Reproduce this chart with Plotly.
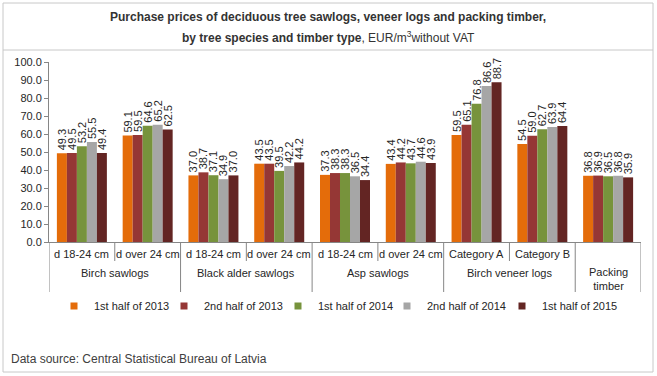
import plotly.graph_objects as go

# ---- data ----
sub_labels = ["d 18-24 cm", "d over 24 cm", "d 18-24 cm", "d over 24 cm",
              "d 18-24 cm", "d over 24 cm", "Category A", "Category B", ""]
group_labels = ["Birch sawlogs", "Black alder sawlogs", "Asp sawlogs",
                "Birch veneer logs", "Packing<br>timber"]
group_spans = [(0, 1), (2, 3), (4, 5), (6, 7), (8, 8)]
series_names = ["1st half of 2013", "2nd half of 2013", "1st half of 2014",
                "2nd half of 2014", "1st half of 2015"]
h1_2013 = [49.3, 59.1, 37.0, 43.5, 37.3, 43.4, 59.5, 54.5, 36.8]
h2_2013 = [49.5, 59.5, 38.7, 43.5, 38.3, 44.2, 65.1, 59.0, 36.9]
h1_2014 = [53.2, 64.6, 37.1, 39.5, 38.3, 43.7, 76.8, 62.7, 36.5]
h2_2014 = [55.5, 65.2, 34.9, 42.2, 36.5, 44.6, 86.6, 63.9, 36.8]
h1_2015 = [49.4, 62.5, 37.0, 44.2, 34.4, 43.9, 88.7, 64.4, 35.9]
series_values = [h1_2013, h2_2013, h1_2014, h2_2014, h1_2015]
colors = ["#E46C0A", "#953735", "#77933C", "#A6A6A6", "#632523"]

W, H = 657, 376
L, R, T, B = 49, 641, 62, 242  # plot area in pixels
legend_px = [54, 164, 278, 387, 502]  # left edge of each legend entry


def px_x(p):
    return (p - L) / (R - L)


def px_y(p):
    return (B - p) / (B - T)


FONT = "Liberation Sans, Arial, sans-serif"
TXT = "#262626"

x_idx = list(range(len(sub_labels)))
fig = go.Figure()
legend_layout = {}
for k, (name, vals, col) in enumerate(zip(series_names, series_values, colors)):
    lg = "legend" if k == 0 else f"legend{k + 1}"
    fig.add_trace(go.Bar(
        x=x_idx, y=vals, name=name, marker_color=col, marker_line_width=0,
        texttemplate="%{y:.1f}", textposition="outside", textangle=-90,
        constraintext="none", cliponaxis=False,
        textfont=dict(size=11, color=TXT, family=FONT),
        showlegend=False, hoverinfo="y+name"))
    fig.add_trace(go.Scatter(
        x=[None], y=[None], mode="markers", name=name, legend=lg,
        marker=dict(symbol="square", size=7, color=col), showlegend=True))
    legend_layout[lg] = dict(
        orientation="h", x=px_x(legend_px[k]), xanchor="left",
        y=px_y(306), yanchor="middle", itemwidth=30,
        font=dict(size=11, color=TXT, family=FONT),
        bgcolor="rgba(0,0,0,0)")

shapes = []
# outer border
shapes.append(dict(type="rect", xref="paper", yref="paper",
                   x0=px_x(3), x1=px_x(653), y0=px_y(372), y1=px_y(3),
                   line=dict(color="#C8C8C8", width=1)))
shapes.append(dict(type="line", xref="paper", yref="paper",
                   x0=px_x(3), x1=px_x(653), y0=px_y(50), y1=px_y(50),
                   line=dict(color="#C8C8C8", width=1)))
# category dividers
short_y = px_y(261)
long_y = px_y(292)
group_edges = [s - 0.5 for s, e in group_spans] + [group_spans[-1][1] + 0.5]
for xe in group_edges:
    shapes.append(dict(type="line", xref="x", yref="paper", x0=xe, x1=xe,
                       y0=0, y1=long_y, line=dict(color="#868686", width=1)))
for s, e in group_spans:
    for k in range(s, e):
        shapes.append(dict(type="line", xref="x", yref="paper",
                           x0=k + 0.5, x1=k + 0.5, y0=0, y1=short_y,
                           line=dict(color="#868686", width=1)))

ann = []
for i, lab in enumerate(sub_labels):
    if lab:
        ann.append(dict(x=i, y=px_y(254), xref="x", yref="paper", text=lab,
                        showarrow=False, yanchor="middle",
                        font=dict(size=11, color=TXT, family=FONT)))
for (s, e), lab in zip(group_spans, group_labels):
    yy = px_y(279) if "<br>" in lab else px_y(273)
    ann.append(dict(x=(s + e) / 2, y=yy, xref="x", yref="paper", text=lab,
                    showarrow=False, yanchor="middle",
                    font=dict(size=11, color=TXT, family=FONT)))
# title (two lines)
ann.append(dict(x=px_x(328), y=px_y(17), xref="paper", yref="paper",
                text="<b>Purchase prices of deciduous tree sawlogs, veneer logs and packing timber,</b>",
                showarrow=False, xanchor="center", yanchor="middle",
                font=dict(size=12, color="#333333", family=FONT)))
ann.append(dict(x=px_x(328), y=px_y(37), xref="paper", yref="paper",
                text="<b>by tree species and timber type</b>, EUR/m<sup>3</sup>without VAT",
                showarrow=False, xanchor="center", yanchor="middle",
                font=dict(size=12, color="#333333", family=FONT)))
ann.append(dict(x=px_x(9), y=px_y(359), xref="paper", yref="paper",
                text="Data source: Central Statistical Bureau of Latvia",
                showarrow=False, xanchor="left", yanchor="middle",
                font=dict(size=12, color="#404040", family=FONT)))

fig.update_layout(
    width=W, height=H,
    margin=dict(l=L, r=W - R, t=T, b=H - B, pad=0, autoexpand=False),
    paper_bgcolor="white", plot_bgcolor="white",
    barmode="group", bargap=0.24, bargroupgap=0,
    font=dict(family=FONT, size=11, color=TXT),
    xaxis=dict(range=[-0.5, 8.5], showticklabels=False, ticks="",
               showgrid=False, zeroline=False, showline=True,
               linecolor="#868686", linewidth=1, fixedrange=True),
    yaxis=dict(range=[0, 100], dtick=10, tickformat=".1f", ticks="outside",
               ticklen=4, tickcolor="#868686", showgrid=False, zeroline=False,
               showline=True, linecolor="#868686", linewidth=1,
               automargin=False,
               tickfont=dict(size=11, color=TXT, family=FONT)),
    shapes=shapes, annotations=ann,
    **legend_layout,
)
fig.write_html("out.html", config={"displayModeBar": False},
               post_script="document.body.style.margin='0';"
                           "document.body.style.overflow='hidden';")
